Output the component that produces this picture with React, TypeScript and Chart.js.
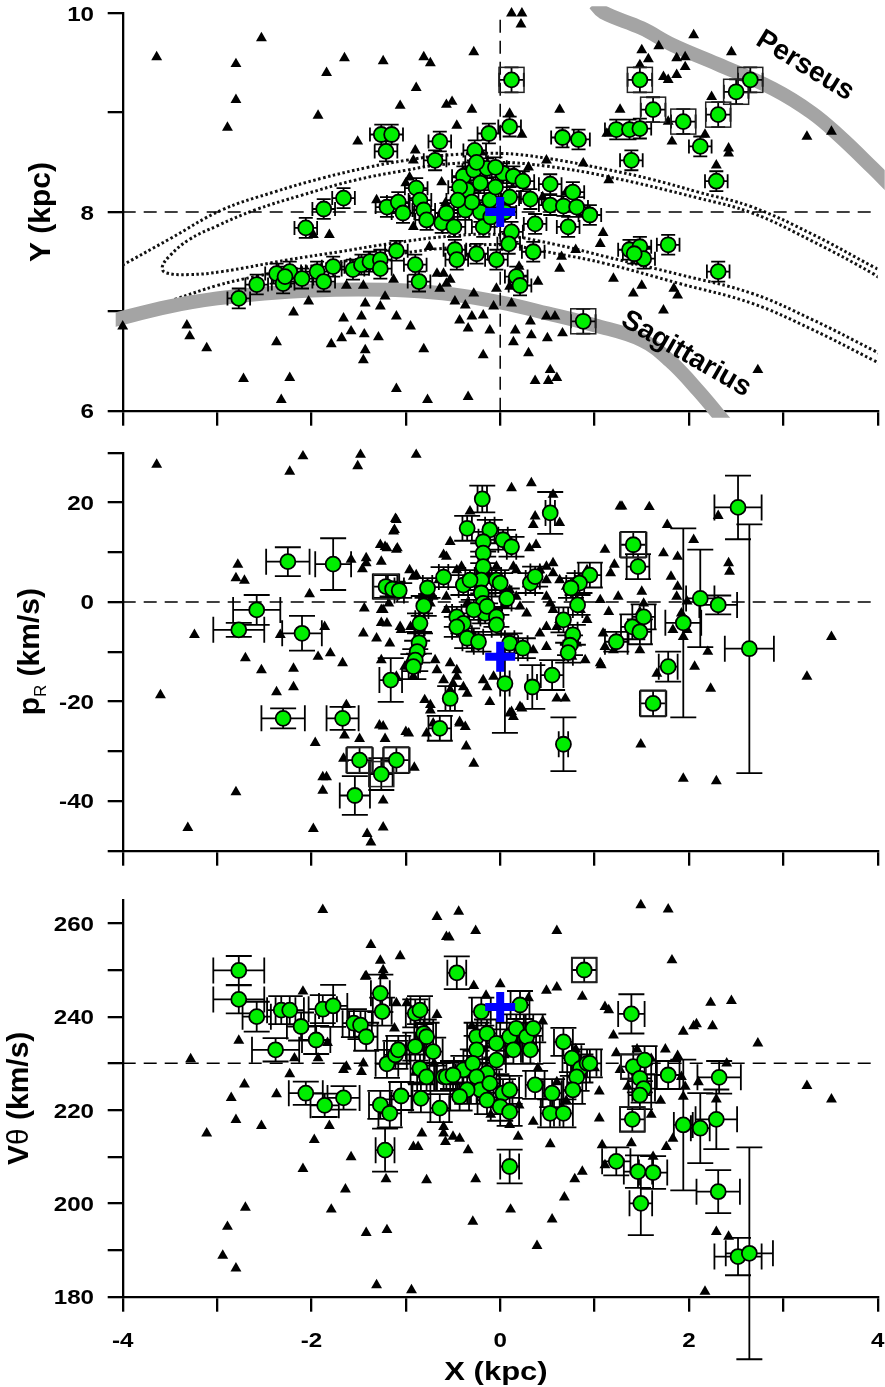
import React, { useEffect, useRef } from 'react';
import { Chart, registerables } from 'chart.js';

Chart.register(...registerables);

// ---------------- DATA ----------------
const xTickLabels = ['-4', '-2', '0', '2', '4'];
const topYTickLabels = ['6', '8', '10'];
const midYTickLabels = ['-40', '-20', '0', '20'];
const botYTickLabels = ['180', '200', '220', '240', '260'];

// reference lines
const topRefY = 8;
const topRefX = 0;
const midRefY = 0;
const botRefY = 230;

// Sun / reference cross
const topCross: [number, number] = [0, 8.0];
const midCross: [number, number] = [0, -11.0];
const botCross: [number, number] = [0, 242.1];

// spiral arms (top panel)
const perseusArm: [number, number][] = [
  [1.0, 10.1], [1.09, 10.01], [1.5, 9.85], [1.83, 9.68], [2.3, 9.49], [2.89, 9.24],
  [3.3, 9.0], [3.6, 8.76], [3.95, 8.44], [4.15, 8.25],
];
const sagittariusArm: [number, number][] = [
  [-4.15, 6.9], [-3.5, 7.05], [-3.0, 7.13], [-2.5, 7.18], [-2.0, 7.21], [-1.5, 7.22],
  [-1.0, 7.21], [-0.5, 7.17], [0, 7.09], [0.5, 6.98], [1.0, 6.86], [1.5, 6.71],
  [1.8, 6.5], [2.1, 6.2], [2.4, 5.86],
];
const armLabels: [string, number, number, number][] = [
  ['Perseus', 3.23, 9.47, 31.5],
  ['Sagittarius', 1.97, 6.57, 30],
];

// orbit curves (dotted)
const orbitOuterUpper: [number, number][] = [
  [-4.05, 7.44], [-3.5, 7.73], [-2.95, 8.02], [-2.4, 8.2], [-1.89, 8.34], [-1.4, 8.45],
  [-1.0, 8.52], [-0.6, 8.57], [0, 8.59], [0.5, 8.54], [1.12, 8.43], [1.6, 8.33],
  [2.1, 8.2], [2.67, 8.05], [3.3, 7.78], [3.95, 7.45], [4.05, 7.4],
];
const orbitInnerLoop: [number, number][] = [
  [4.05, 7.31], [3.95, 7.38], [3.3, 7.71], [2.67, 7.99], [2.1, 8.14], [1.12, 8.36],
  [0.5, 8.46], [0, 8.5], [-0.6, 8.48], [-1.0, 8.42], [-1.54, 8.32], [-2.1, 8.17],
  [-2.6, 8.02], [-3.0, 7.86], [-3.3, 7.72], [-3.5, 7.56], [-3.58, 7.45], [-3.55, 7.39],
  [-3.3, 7.37], [-2.95, 7.4], [-2.24, 7.52], [-1.7, 7.6], [-1.18, 7.68], [-0.5, 7.76],
  [0, 7.77], [0.6, 7.67], [1.12, 7.55], [1.9, 7.37], [2.67, 7.18], [3.3, 6.92],
  [3.95, 6.61], [4.05, 6.56],
];
const orbitOuterLower: [number, number][] = [
  [-3.45, 7.12], [-3.0, 7.26], [-2.6, 7.35], [-2.1, 7.44], [-1.54, 7.52], [-1.0, 7.59],
  [-0.66, 7.63], [0, 7.67], [0.6, 7.58], [1.12, 7.48], [1.9, 7.28], [2.67, 7.08],
  [3.3, 6.82], [3.95, 6.51], [4.05, 6.46],
];

// top panel: Y (kpc)
const topTriangles: [number, number][] = [
  [-3.64, 9.56], [-2.53, 9.75], [-2.8, 9.49], [-2.8, 9.13], [-2.89, 8.85], [-1.65, 9.55],
  [-1.84, 9.4], [-1.93, 8.97], [-1.24, 9.52], [-0.81, 9.56], [-0.74, 9.5], [-0.89, 9.25],
  [-1.06, 9.07], [-1.51, 8.71], [-0.9, 8.62], [-0.92, 8.52], [-0.96, 8.35], [-1.0, 8.29],
  [-1.31, 8.12], [-0.58, 8.09], [-0.92, 7.85], [-1.98, 7.77], [-1.81, 7.77], [-1.63, 7.26],
  [-1.45, 7.26], [-1.13, 7.32], [-0.57, 7.28], [-2.03, 7.1], [-2.19, 6.99], [-1.43, 7.08],
  [-1.22, 7.15], [-1.27, 7.05], [-1.66, 6.93], [-1.47, 6.95], [-1.1, 6.95], [-0.95, 6.85],
  [-1.58, 6.8], [-1.44, 6.77], [-1.29, 6.74], [-1.68, 6.73], [-1.79, 6.67], [-2.37, 6.69],
  [-1.43, 6.61], [-1.45, 6.51], [-0.81, 6.62], [-3.32, 6.86], [-3.29, 6.75], [-3.11, 6.63],
  [-2.72, 6.32], [-2.23, 6.33], [-2.32, 6.11], [-1.1, 6.22], [-0.77, 6.11], [-4.0, 6.85],
  [-0.67, 7.38], [-0.57, 9.08],
  [0.12, 10.0], [0.23, 10.0], [0.22, 9.89], [-0.28, 9.61], [-0.51, 9.11], [-0.3, 9.03],
  [-0.46, 8.87], [0.1, 8.99], [0.23, 8.78], [0.63, 9.03], [1.27, 9.03], [1.13, 8.79],
  [1.5, 9.63], [1.48, 9.48], [1.57, 9.54], [1.68, 9.67], [1.87, 9.55], [1.96, 9.56],
  [1.96, 9.46], [1.87, 9.38], [1.73, 9.36], [2.05, 9.78], [2.45, 9.61], [2.24, 9.16],
  [2.42, 8.64], [2.42, 8.59], [2.17, 8.78], [1.82, 8.71], [1.78, 8.91], [2.29, 8.47],
  [1.15, 8.32], [1.78, 9.33], [3.25, 8.76], [3.51, 8.81], [0.49, 8.52], [0.88, 8.49],
  [1.09, 7.79], [1.06, 7.68], [0.65, 7.55], [0.63, 7.43], [1.2, 7.33], [1.41, 7.18],
  [1.5, 7.26], [1.73, 7.01], [1.84, 7.23], [1.88, 7.16], [2.73, 6.41], [0.1, 7.25],
  [0.12, 7.08], [-0.04, 7.23], [-0.48, 7.1], [-0.37, 7.06], [-0.3, 6.95], [-0.43, 6.91],
  [-0.34, 6.83], [-0.18, 6.96], [-0.11, 6.81], [-0.07, 7.05], [-0.28, 7.18], [-0.64, 7.23],
  [-0.53, 7.32], [-0.6, 7.38], [0.16, 6.81], [0.32, 6.9], [0.33, 6.76], [0.49, 6.95],
  [0.58, 6.95], [0.5, 6.73], [0.66, 6.78], [0.14, 6.69], [-0.18, 6.56], [0.3, 6.58],
  [0.53, 6.41], [0.6, 6.33], [0.37, 6.3], [0.51, 6.3], [-0.34, 6.14],
  [-0.2, 8.6], [0.3, 8.45], [0.05, 7.65], [-0.45, 7.5], [0.4, 7.3], [0.8, 7.62],
  [0.7, 8.2], [-0.75, 7.65], [-0.15, 8.75], [0.45, 8.15], [-0.62, 8.3], [0.2, 7.45],
];
const topCircles: [number, number, number, number][] = [
  [-2.77, 7.13, 0.12, 0.1], [-2.58, 7.27, 0.12, 0.1], [-2.37, 7.38, 0.12, 0.1], [-2.3, 7.28, 0.12, 0.1],
  [-2.23, 7.4, 0.12, 0.1], [-2.1, 7.33, 0.12, 0.1], [-2.28, 7.35, 0.12, 0.1], [-1.94, 7.4, 0.12, 0.1],
  [-1.87, 7.3, 0.12, 0.1], [-1.77, 7.45, 0.12, 0.1], [-1.56, 7.42, 0.12, 0.1], [-1.47, 7.47, 0.12, 0.1],
  [-1.38, 7.5, 0.12, 0.1], [-1.27, 7.52, 0.12, 0.1], [-1.27, 7.43, 0.12, 0.1], [-1.1, 7.61, 0.12, 0.1],
  [-0.9, 7.47, 0.12, 0.1], [-0.86, 7.3, 0.12, 0.1],
  [-2.06, 7.84, 0.12, 0.1], [-1.87, 8.03, 0.12, 0.1], [-1.66, 8.14, 0.12, 0.1], [-1.26, 8.78, 0.12, 0.1],
  [-1.15, 8.78, 0.12, 0.1], [-1.21, 8.61, 0.12, 0.1], [-1.2, 8.05, 0.12, 0.1], [-1.08, 8.1, 0.12, 0.1],
  [-1.03, 7.99, 0.12, 0.1], [-0.89, 8.24, 0.12, 0.1], [-0.85, 8.12, 0.12, 0.1], [-0.81, 8.02, 0.12, 0.1],
  [-0.78, 7.92, 0.12, 0.1], [-0.64, 8.71, 0.12, 0.1], [-0.69, 8.52, 0.12, 0.1], [-0.62, 7.89, 0.12, 0.1],
  [-0.49, 7.85, 0.12, 0.1], [-0.57, 7.99, 0.12, 0.1],
  [-0.27, 8.62, 0.12, 0.1], [-0.12, 8.79, 0.12, 0.1], [0.1, 8.86, 0.12, 0.1],
  [-0.39, 8.36, 0.12, 0.1], [-0.28, 8.42, 0.12, 0.1], [-0.14, 8.44, 0.12, 0.1], [-0.35, 8.22, 0.12, 0.1],
  [-0.21, 8.29, 0.12, 0.1], [-0.11, 8.12, 0.12, 0.1], [0.03, 8.39, 0.12, 0.1], [0.14, 8.36, 0.12, 0.1],
  [0.24, 8.31, 0.12, 0.1], [-0.37, 8.02, 0.12, 0.1], [-0.21, 8.0, 0.12, 0.1], [-0.18, 7.85, 0.12, 0.1],
  [0.1, 8.15, 0.12, 0.1], [-0.43, 8.25, 0.12, 0.1], [-0.3, 8.1, 0.12, 0.1], [-0.05, 8.25, 0.12, 0.1],
  [-0.25, 8.5, 0.12, 0.1], [0.05, 8.0, 0.12, 0.1], [-0.1, 7.95, 0.12, 0.1], [-0.45, 8.12, 0.12, 0.1],
  [-0.05, 8.45, 0.12, 0.1],
  [0.32, 8.13, 0.12, 0.1], [0.53, 8.28, 0.12, 0.1], [0.37, 7.88, 0.12, 0.1], [0.12, 7.8, 0.12, 0.1],
  [0.09, 7.68, 0.12, 0.1], [0.53, 8.07, 0.12, 0.1], [0.67, 8.06, 0.12, 0.1], [0.77, 8.2, 0.12, 0.1],
  [0.81, 8.05, 0.12, 0.1], [0.95, 7.97, 0.12, 0.1], [0.72, 7.85, 0.12, 0.1], [0.66, 8.75, 0.12, 0.1],
  [0.83, 8.73, 0.12, 0.1],
  [-0.48, 7.62, 0.12, 0.1], [-0.46, 7.52, 0.12, 0.1], [-0.25, 7.58, 0.12, 0.1], [-0.04, 7.52, 0.12, 0.1],
  [0.17, 7.35, 0.12, 0.1], [0.21, 7.26, 0.12, 0.1], [0.35, 7.6, 0.12, 0.1],
  [1.23, 8.83, 0.12, 0.1], [1.37, 8.83, 0.12, 0.1], [1.48, 8.84, 0.12, 0.1], [1.39, 8.52, 0.12, 0.1],
  [2.12, 8.66, 0.12, 0.1], [2.29, 8.31, 0.12, 0.1], [1.37, 7.62, 0.12, 0.1], [1.48, 7.65, 0.12, 0.1],
  [1.52, 7.53, 0.12, 0.1], [1.42, 7.58, 0.12, 0.1], [1.78, 7.67, 0.12, 0.1], [2.31, 7.4, 0.12, 0.1],
  [0.12, 9.33, 0.13, 0.125], [1.48, 9.33, 0.13, 0.125], [1.62, 9.03, 0.13, 0.125], [1.94, 8.91, 0.13, 0.125],
  [2.31, 8.98, 0.13, 0.125], [2.5, 9.21, 0.13, 0.125], [2.65, 9.33, 0.13, 0.125], [0.88, 6.9, 0.13, 0.125],
];
const topBoxes: [number, number][] = [
  [0.12, 9.33], [1.48, 9.33], [1.62, 9.03], [1.94, 8.91], [2.31, 8.98], [2.5, 9.21], [2.65, 9.33], [0.88, 6.9],
];

// middle panel: p_R (km/s)
const midTriangles: [number, number][] = [
  [-3.64, 27.6], [-3.6, -18.7], [-3.24, -6.6], [-3.31, -45.4], [-2.8, -38.2], [-2.78, 7.5],
  [-2.8, 4.8], [-2.71, 4.3], [-2.7, -11.3], [-2.53, -13.7], [-2.23, 26.2], [-2.09, 29.3],
  [-2.02, 1.6], [-2.33, -6.6], [-1.86, -5.0], [-1.93, -11.0], [-1.8, -10.3], [-1.67, -12.3],
  [-2.19, -13.4], [-2.19, -17.1], [-2.37, -18.1], [-1.96, -28.3], [-1.98, -45.6], [-1.88, -35.2],
  [-1.84, -35.2], [-1.88, -37.9], [-1.66, -31.5], [-1.63, -20.7], [-1.65, -26.8], [-1.49, -27.5],
  [-1.48, 29.6], [-1.51, 27.3], [-1.42, 8.8], [-1.42, 7.8], [-1.58, 8.5], [-1.46, 6.6],
  [-1.44, -1.3], [-1.45, -6.3], [-1.31, -7.3], [-1.27, 11.5], [-1.2, 10.8], [-1.11, 16.7],
  [-1.12, 14.5], [-1.09, 10.8], [-1.26, 8.1], [-1.26, -1.6], [-1.26, -4.2], [-1.24, -25.0],
  [-1.28, -24.8], [-1.22, -27.5], [-1.26, -11.7], [-1.24, -39.9], [-1.24, -45.3], [-1.41, -46.6],
  [-1.37, -48.3], [-0.91, -33.3], [-1.0, -26.1], [-0.89, 29.6], [-0.74, -20.7], [-0.78, -26.4],
  [-1.05, -5.6], [-0.96, 6.4], [-0.89, 5.4], [-0.69, -11.7], [-0.57, 9.1],
  [-1.1, 16.5], [-1.13, 14.2], [-1.22, 11.1], [-1.1, 10.5], [-0.6, 9.5], [-0.53, 12.1],
  [-0.32, 18.2], [0.12, 22.9], [0.33, 23.9], [0.37, 17.2], [0.35, 15.5], [0.56, 21.6],
  [0.63, 15.9], [1.27, 19.2], [1.11, 10.5], [0.38, 11.5], [0.31, 10.8], [0.56, 7.8],
  [0.49, 7.1], [-0.92, 5.1], [0.14, 7.1], [0.17, 6.4], [-0.04, 7.1], [-0.14, 5.8],
  [-0.46, 6.4], [-0.41, 7.1], [-0.28, 3.8], [-0.65, 4.4], [-0.81, 1.8], [-0.71, 1.1],
  [-0.74, -0.3], [-1.24, -1.6], [-1.18, -0.3], [-0.57, 1.1], [-0.57, -1.6], [-0.35, -0.3],
  [-0.25, -1.6], [0.1, 2.4], [0.17, 1.1], [0.21, -0.9], [0.28, -2.3], [0.49, 1.1],
  [0.53, -0.3], [0.42, 6.4], [0.49, 4.4], [0.56, 5.8], [0.63, 4.4], [0.7, 3.1],
  [0.56, -1.6], [0.63, -3.6], [0.6, -5.0], [0.42, -6.3], [0.49, -5.0], [0.35, -9.7],
  [0.49, -9.0], [0.85, -1.6], [0.92, -3.6], [0.81, -8.3], [0.9, -11.7], [1.06, -12.3],
  [1.09, -6.3], [1.2, -9.7], [0.92, 6.4], [1.17, 5.8], [0.76, -11.0], [-1.2, -4.3],
  [-1.06, -5.0], [-0.95, -5.0], [-0.85, -4.3], [-1.17, -8.3], [-0.96, -11.7], [-1.01, -13.0],
  [-1.1, -15.0], [-0.92, -15.0], [-0.67, -13.7], [-0.6, -15.7], [-0.5, -16.4], [-0.46, -15.0],
  [-0.53, -17.7], [-0.8, -19.7], [-0.74, -21.8], [-0.71, -24.4], [-0.97, -26.4], [-0.39, -17.1],
  [-0.35, -18.4], [-0.43, -24.4], [-0.37, -25.1], [-0.07, -15.0], [-0.18, -15.7], [-0.14, -17.1],
  [-0.53, -12.3], [-0.46, -13.7], [0.1, -22.4], [0.14, -23.1], [0.21, -21.1],
  [1.29, 19.2], [1.58, 19.1], [1.77, 15.5], [2.05, 12.5], [1.21, 7.5], [1.73, 9.8],
  [1.88, 9.1], [2.42, 7.8], [2.43, 6.1], [2.31, 17.3], [1.81, 5.1], [1.88, 3.1],
  [1.87, 1.1], [1.98, 0.1], [1.92, -2.3], [1.06, 0.4], [1.25, 1.1], [1.15, -2.0],
  [1.5, 2.1], [1.52, -0.3], [1.48, -2.0], [1.83, -5.6], [1.94, -7.0], [1.98, -5.6],
  [1.48, -9.7], [1.66, -14.4], [1.11, -9.0], [1.07, -12.7], [2.2, -10.0], [2.06, -13.0],
  [2.23, -17.4], [1.49, -28.6], [1.94, -35.5], [2.29, -36.0], [3.25, -15.0], [3.51, -7.0],
  [-0.28, -32.5], [-0.36, -29.0], [-0.11, -20.1], [0.12, -22.1], [0.23, -21.4], [0.6, -19.4],
  [0.69, -19.4], [-0.43, -24.1],
];
const midCircles: [number, number, number, number][] = [
  [-2.25, 8.1, 0.23, 2.9], [-1.77, 7.6, 0.19, 5.2], [-2.58, -1.6, 0.25, 3.0], [-2.77, -5.6, 0.27, 1.4],
  [-2.1, -6.3, 0.21, 3.5], [-1.16, -15.7, 0.12, 4.4], [-2.3, -23.4, 0.23, 2.0], [-1.67, -23.4, 0.17, 2.3],
  [-1.54, -38.9, 0.16, 3.9], [-1.49, -31.8, 0.14, 2.6], [-1.1, -31.8, 0.14, 2.6], [-1.26, -34.6, 0.12, 3.2],
  [-1.21, 3.1, 0.14, 2.3], [-1.14, 2.6, 0.05, 1.5], [-1.07, 2.3, 0.05, 1.5], [-0.77, 2.8, 0.05, 2.0],
  [-0.81, -0.8, 0.05, 2.0], [-0.85, -4.3, 0.05, 2.0], [-0.86, -8.2, 0.05, 2.2], [-0.88, -10.0, 0.05, 2.2],
  [-0.9, -11.7, 0.05, 2.2], [-0.92, -13.0, 0.05, 2.5], [-0.6, 5.0, 0.05, 2.0], [-0.64, -25.4, 0.12, 2.5],
  [-0.53, -19.4, 0.05, 2.5], [-0.19, 20.7, 0.05, 2.7], [0.53, 17.9, 0.05, 4.2], [-0.35, 14.8, 0.05, 2.5],
  [-0.11, 14.5, 0.05, 2.0], [0.03, 12.5, 0.05, 2.0], [0.12, 11.1, 0.05, 2.0], [-0.18, 12.1, 0.05, 2.0],
  [-0.18, 9.8, 0.05, 2.0], [-0.18, 7.1, 0.05, 2.0], [-0.2, 4.4, 0.05, 2.0], [-0.2, 1.8, 0.05, 2.0],
  [-0.18, -0.3, 0.05, 2.0], [-0.16, -2.3, 0.05, 2.0], [-0.39, 3.4, 0.05, 2.0], [-0.32, 4.4, 0.05, 2.0],
  [-0.04, 4.4, 0.05, 2.0], [0.0, 3.8, 0.05, 2.0], [0.07, 0.7, 0.05, 2.0], [-0.46, -3.0, 0.05, 2.0],
  [-0.39, -4.3, 0.05, 2.0], [-0.46, -5.0, 0.05, 2.0], [-0.28, -1.6, 0.05, 2.0], [-0.14, -0.9, 0.05, 2.0],
  [-0.04, -3.0, 0.05, 2.0], [-0.04, -4.6, 0.05, 2.0], [-0.35, -7.3, 0.05, 2.0], [-0.23, -8.0, 0.05, 2.0],
  [0.1, -8.3, 0.05, 2.0], [0.24, -9.3, 0.05, 2.0], [0.05, -16.4, 0.05, 9.9], [0.34, -17.1, 0.05, 4.4],
  [0.55, -14.7, 0.12, 3.0], [0.32, 3.8, 0.05, 2.0], [0.37, 5.1, 0.05, 2.0], [0.95, 5.4, 0.12, 2.5],
  [0.84, 3.8, 0.05, 2.0], [0.75, 2.8, 0.05, 2.0], [0.82, -0.6, 0.05, 2.0], [0.67, -3.6, 0.05, 2.5],
  [0.77, -6.6, 0.05, 2.0], [0.74, -8.7, 0.05, 2.0], [0.72, -10.2, 0.05, 2.0], [1.23, -8.0, 0.12, 2.0],
  [0.67, -28.6, 0.05, 5.4], [1.41, 11.5, 0.14, 2.6], [1.46, 7.1, 0.12, 2.5], [1.4, -5.0, 0.12, 2.5],
  [1.52, -3.0, 0.12, 2.5], [1.48, -6.0, 0.12, 2.5], [1.62, -20.4, 0.14, 2.6], [1.78, -13.0, 0.1, 3.0],
  [1.94, -4.2, 0.19, 19], [2.12, 0.7, 0.15, 9.8], [2.31, -0.6, 0.2, 1.9], [2.52, 19.0, 0.25, 6.4],
  [2.64, -9.4, 0.26, 25],
];
const midBoxes: [number, number][] = [
  [-1.49, -31.8], [-1.1, -31.8], [-1.26, -34.6], [-1.21, 3.1], [1.41, 11.5], [1.62, -20.4],
];

// bottom panel: V_theta (km/s)
const botTriangles: [number, number][] = [
  [-3.28, 230.9], [-3.11, 215.0], [-2.85, 222.6], [-2.8, 217.9], [-2.71, 225.5], [-2.77, 234.9],
  [-2.53, 216.6], [-2.94, 188.8], [-2.89, 195.0], [-2.8, 186.1], [-2.7, 199.1], [-2.37, 223.4],
  [-2.23, 227.7], [-2.18, 231.1], [-2.09, 245.4], [-2.09, 207.4], [-1.97, 213.6], [-1.88, 262.9],
  [-1.93, 231.1], [-1.83, 234.4], [-1.81, 216.6], [-1.79, 198.7], [-1.64, 203.0], [-1.58, 209.9],
  [-1.66, 228.6], [-1.63, 229.3], [-1.47, 228.2], [-1.45, 230.0], [-1.42, 193.7], [-1.37, 255.4],
  [-1.42, 248.7], [-1.31, 182.5], [-1.2, 194.3], [-1.27, 252.0], [-1.24, 250.0], [-1.24, 248.7],
  [-1.06, 253.0], [-1.12, 237.5], [-1.21, 205.2], [-0.94, 181.4], [-0.78, 205.0], [-0.92, 212.1],
  [-0.87, 212.1], [-0.83, 215.0], [-0.67, 261.4], [-0.57, 257.1], [-0.6, 216.4], [-0.58, 213.2],
  [-0.67, 240.4], [-1.1, 242.9], [-0.99, 242.9], [-1.43, 248.6],
  [-0.44, 262.5], [-0.26, 258.4], [-0.54, 257.0], [0.6, 258.4], [-0.28, 246.6], [0.49, 245.6],
  [0.6, 246.3], [0.87, 244.3], [1.11, 242.1], [1.15, 241.4], [1.49, 263.9], [1.78, 263.0],
  [1.82, 252.1], [2.23, 243.0], [2.45, 243.4], [1.94, 236.8], [2.05, 238.0], [2.08, 238.4],
  [2.25, 238.0], [2.73, 234.3], [3.25, 225.2], [3.51, 222.3], [1.05, 218.2], [0.53, 212.7],
  [-0.26, 205.2], [0.11, 198.7], [-0.29, 196.1], [0.55, 196.6], [0.39, 190.9], [0.68, 201.3],
  [0.79, 205.2], [0.87, 206.8], [1.08, 212.5], [1.11, 208.2], [1.39, 212.9], [1.62, 210.0],
  [1.76, 212.1], [1.83, 213.9], [1.88, 231.6], [1.92, 227.1], [1.96, 225.0], [1.94, 222.9],
  [2.29, 222.3], [2.29, 193.9], [2.42, 192.9], [2.17, 181.1], [1.23, 232.2], [1.27, 228.6],
  [-0.5, 214.3], [-0.43, 213.9], [-0.34, 211.4], [-0.6, 215.0], [0.1, 216.8], [0.19, 214.3],
  [0.35, 217.5],
  [-0.3, 238], [0.1, 232], [0.4, 229], [-0.5, 226], [0.2, 221], [-0.1, 219], [0.6, 226],
  [0.8, 233], [-0.7, 230], [-0.9, 228], [0.45, 239], [0.3, 244], [-0.15, 244.5], [0.0, 247],
  [-0.8, 236], [1.0, 229], [1.05, 224], [0.7, 222], [1.2, 236], [1.45, 233], [1.6, 231],
  [1.7, 222], [1.6, 219], [1.35, 225], [2.1, 226], [2.4, 230], [1.75, 233],
];
const botCircles: [number, number, number, number][] = [
  [-2.77, 249.9, 0.27, 3.1], [-2.77, 243.7, 0.27, 3.0], [-2.58, 240.0, 0.15, 3.2], [-2.38, 232.9, 0.25, 2.5],
  [-2.32, 241.4, 0.15, 3.0], [-2.23, 241.4, 0.15, 3.0], [-2.11, 237.9, 0.15, 3.0], [-1.95, 235.0, 0.15, 3.0],
  [-2.06, 223.6, 0.18, 2.5], [-1.86, 221.0, 0.15, 2.5], [-1.66, 222.6, 0.17, 2.5], [-1.88, 241.6, 0.15, 3.0],
  [-1.77, 242.3, 0.15, 4.5], [-1.55, 238.6, 0.12, 3.0], [-1.48, 238.2, 0.12, 3.0], [-1.42, 235.7, 0.12, 3.0],
  [-1.27, 245.0, 0.1, 4.0], [-1.25, 241.1, 0.1, 3.0], [-1.2, 229.9, 0.12, 3.0], [-1.11, 231.8, 0.12, 3.0],
  [-1.08, 232.9, 0.12, 3.0], [-1.27, 221.1, 0.12, 3.0], [-1.17, 219.3, 0.12, 3.0], [-1.22, 211.4, 0.1, 4.6],
  [-1.05, 223.0, 0.12, 3.0], [-0.9, 240.7, 0.1, 3.0], [-0.85, 241.4, 0.1, 3.0], [-0.81, 236.4, 0.1, 3.0],
  [-0.78, 235.7, 0.1, 3.0], [-0.9, 233.6, 0.1, 3.0], [-0.71, 232.5, 0.1, 3.0], [-0.85, 228.9, 0.1, 3.0],
  [-0.78, 227.1, 0.1, 3.0], [-0.84, 222.5, 0.1, 3.0], [-0.64, 220.4, 0.1, 3.0], [-0.6, 227.1, 0.1, 3.0],
  [-0.46, 249.4, 0.1, 3.5], [-0.2, 241.1, 0.1, 3.0], [0.21, 242.5, 0.1, 3.0], [-0.57, 227.1, 0.1, 3.0],
  [-0.39, 228.6, 0.1, 3.0], [-0.14, 227.9, 0.1, 3.0], [-0.5, 227.5, 0.1, 3.0],
  [-0.25, 235.7, 0.1, 3.0], [-0.14, 236.4, 0.1, 3.0], [-0.25, 232.9, 0.1, 3.0], [-0.29, 230.0, 0.1, 3.0],
  [-0.25, 227.1, 0.1, 3.0], [-0.21, 224.3, 0.1, 3.0], [-0.14, 222.1, 0.1, 3.0], [-0.35, 224.3, 0.1, 3.0],
  [-0.43, 222.9, 0.1, 3.0], [-0.11, 225.7, 0.1, 3.0], [-0.04, 234.3, 0.1, 3.0], [0.1, 235.7, 0.1, 3.0],
  [0.17, 237.5, 0.1, 3.0], [0.28, 235.7, 0.1, 3.0], [0.35, 237.5, 0.1, 3.0], [0.14, 232.9, 0.1, 3.0],
  [0.32, 232.9, 0.1, 3.0], [-0.04, 230.7, 0.1, 3.0], [0.03, 223.6, 0.1, 3.0], [0.1, 224.3, 0.1, 3.0],
  [0.0, 220.7, 0.1, 3.0],
  [0.37, 225.4, 0.1, 3.0], [0.1, 219.6, 0.1, 3.0], [0.55, 223.6, 0.1, 3.0], [0.53, 219.3, 0.1, 3.0],
  [0.67, 219.3, 0.1, 3.0], [0.67, 234.6, 0.1, 3.0], [0.76, 231.1, 0.1, 3.0], [0.85, 228.9, 0.1, 3.0],
  [0.92, 230.0, 0.1, 3.0], [0.81, 227.1, 0.1, 3.0], [0.77, 224.3, 0.1, 3.0], [0.95, 230.0, 0.12, 3.0],
  [0.1, 207.9, 0.1, 3.6], [0.89, 250.0, 0.13, 2.6], [1.39, 240.6, 0.14, 4.2], [1.41, 229.3, 0.13, 2.6],
  [1.53, 230.7, 0.12, 3.0], [1.48, 226.8, 0.12, 3.0], [1.52, 224.6, 0.12, 3.0], [1.48, 223.2, 0.12, 3.0],
  [1.78, 227.5, 0.12, 3.0], [2.32, 227.0, 0.23, 3.5], [1.4, 218.0, 0.13, 2.6], [1.23, 209.0, 0.15, 3.0],
  [1.46, 206.8, 0.15, 3.5], [1.62, 206.6, 0.15, 3.5], [1.49, 200.0, 0.12, 6.8], [1.94, 216.8, 0.1, 14],
  [2.12, 216.1, 0.1, 7.5], [2.29, 218.0, 0.22, 6.4], [2.31, 202.5, 0.23, 4.6], [2.52, 188.6, 0.25, 4.0],
  [2.64, 189.3, 0.25, 22.7],
];
const botBoxes: [number, number][] = [[0.89, 250.0], [1.41, 229.3], [1.4, 218.0]];

// ---------------- RENDERING ----------------
const FONT = '"Liberation Sans", Arial, Helvetica, sans-serif';
const W = 885;
const PLOT_LEFT = 122.7;
const PLOT_RIGHT = 877.7;

type Seg = { t: string; size: number; weight?: string; dy?: number };

function drawSegs(ctx: CanvasRenderingContext2D, segs: Seg[], x: number, y: number,
  rot: number, scaleX: number, align: 'center' | 'right' | 'left', baseline: CanvasTextBaseline = 'alphabetic') {
  ctx.save();
  ctx.translate(x, y);
  ctx.rotate(rot);
  ctx.scale(scaleX, 1);
  ctx.fillStyle = '#000';
  ctx.textAlign = 'left';
  ctx.textBaseline = baseline;
  const fontOf = (s: Seg) => `${s.weight || 'bold'} ${s.size}px ${FONT}`;
  const widths = segs.map((s) => { ctx.font = fontOf(s); return ctx.measureText(s.t).width; });
  const total = widths.reduce((a, b) => a + b, 0);
  let cx = align === 'center' ? -total / 2 : align === 'right' ? -total : 0;
  segs.forEach((s, i) => {
    ctx.font = fontOf(s);
    ctx.fillText(s.t, cx, s.dy || 0);
    cx += widths[i];
  });
  ctx.restore();
}

interface Panel {
  top: number; height: number; plotTop: number; plotBottom: number;
  yMin: number; yMax: number; yStep: number; yLabels: string[];
  triangles: [number, number][]; circles: [number, number, number, number][]; boxes: [number, number][];
  cross: [number, number]; refY: number; refX?: number;
  arms?: [number, number][][]; orbits?: [number, number][][];
  yTitle: Seg[]; yTitleX: number; xLabels: boolean; cap: number;
  labels?: [string, number, number, number][];
}

const PANELS: Panel[] = [
  {
    top: 0, height: 440, plotTop: 13.3, plotBottom: 410.7, yMin: 6, yMax: 10, yStep: 1, yLabels: topYTickLabels,
    triangles: topTriangles, circles: topCircles, boxes: topBoxes, cross: topCross, refY: topRefY, refX: topRefX,
    arms: [perseusArm, sagittariusArm], orbits: [orbitOuterUpper, orbitInnerLoop, orbitOuterLower],
    yTitle: [{ t: 'Y (kpc)', size: 30 }], yTitleX: 49.5, xLabels: false, cap: 14, labels: armLabels,
  },
  {
    top: 440, height: 440, plotTop: 12.7, plotBottom: 410.7, yMin: -50, yMax: 30, yStep: 10, yLabels: midYTickLabels,
    triangles: midTriangles, circles: midCircles, boxes: midBoxes, cross: midCross, refY: midRefY,
    yTitle: [{ t: 'p', size: 30 }, { t: 'R', size: 17, weight: 'normal', dy: 7 }, { t: ' (km/s)', size: 30 }],
    yTitleX: 38.5, xLabels: false, cap: 26,
  },
  {
    top: 880, height: 507, plotTop: 20, plotBottom: 416.7, yMin: 180, yMax: 265, yStep: 10, yLabels: botYTickLabels,
    triangles: botTriangles, circles: botCircles, boxes: botBoxes, cross: botCross, refY: botRefY,
    yTitle: [{ t: 'V', size: 30 }, { t: '\u03b8', size: 30, weight: 'normal' }, { t: ' (km/s)', size: 30 }],
    yTitleX: 28, xLabels: true, cap: 26,
  },
];

const pts = (a: number[][]) => a.map((d) => ({ x: d[0], y: d[1] }));

function buildChart(canvas: HTMLCanvasElement, p: Panel) {
  const datasets: any[] = [];
  (p.orbits || []).forEach((o) => datasets.push({
    label: 'orbit', data: pts(o), showLine: true, borderColor: '#111', borderWidth: 3,
    borderDash: [2.5, 2.5], tension: 0.4, pointRadius: 0, order: 6,
  }));
  (p.arms || []).forEach((a) => datasets.push({
    label: 'arm', data: pts(a), showLine: true, borderColor: '#a4a4a4', borderWidth: 14,
    tension: 0.4, pointRadius: 0, order: 5, clip: 7,
  }));
  datasets.push({
    label: 'refY', data: [{ x: -4, y: p.refY }, { x: 4, y: p.refY }], showLine: true,
    borderColor: '#000', borderWidth: 1.5, borderDash: [13, 8], pointRadius: 0, order: 4,
  });
  if (p.refX !== undefined) {
    datasets.push({
      label: 'refX', data: [{ x: p.refX, y: p.yMin }, { x: p.refX, y: p.yMax }], showLine: true,
      borderColor: '#000', borderWidth: 1.5, borderDash: [13, 8], pointRadius: 0, order: 4,
    });
  }
  datasets.push({
    label: 'triangles', data: pts(p.triangles), showLine: false, pointStyle: 'triangle',
    pointRadius: 6.3, pointBackgroundColor: '#000', pointBorderColor: '#000', pointBorderWidth: 0,
    order: 3, clip: false,
  });
  datasets.push({
    label: 'circles', data: pts(p.circles), showLine: false, pointStyle: 'circle',
    pointRadius: 7.5, pointBackgroundColor: '#00ee00', pointBorderColor: '#000', pointBorderWidth: 1.8,
    order: 1, clip: false,
  });
  datasets.push({
    label: 'cross', data: pts([p.cross]), showLine: false, pointStyle: 'cross',
    pointRadius: 15, pointBorderColor: '#0000ff', pointBackgroundColor: '#0000ff', pointBorderWidth: 8,
    order: 0, clip: false,
  });

  const overlay = {
    id: 'overlay',
    beforeDatasetDraw(chart: any, args: any) {
      const ds = chart.data.datasets[args.index];
      if (ds.label !== 'circles') return;
      const ctx: CanvasRenderingContext2D = chart.ctx;
      const xs = chart.scales.x;
      const ys = chart.scales.y;
      const c = p.cap / 2;
      ctx.save();
      ctx.strokeStyle = '#000';
      ctx.lineWidth = 1.8;
      ctx.beginPath();
      for (const [x, y, ex, ey] of p.circles) {
        const px = xs.getPixelForValue(x);
        const py = ys.getPixelForValue(y);
        const x1 = xs.getPixelForValue(x - ex);
        const x2 = xs.getPixelForValue(x + ex);
        const y1 = ys.getPixelForValue(y + ey);
        const y2 = ys.getPixelForValue(y - ey);
        ctx.moveTo(x1, py); ctx.lineTo(x2, py);
        ctx.moveTo(x1, py - c); ctx.lineTo(x1, py + c);
        ctx.moveTo(x2, py - c); ctx.lineTo(x2, py + c);
        ctx.moveTo(px, y1); ctx.lineTo(px, y2);
        ctx.moveTo(px - c, y1); ctx.lineTo(px + c, y1);
        ctx.moveTo(px - c, y2); ctx.lineTo(px + c, y2);
      }
      ctx.stroke();
      ctx.strokeStyle = '#222';
      ctx.lineWidth = 1.5;
      for (const [x, y] of p.boxes) {
        const px = xs.getPixelForValue(x);
        const py = ys.getPixelForValue(y);
        ctx.strokeRect(px - 12.5, py - 12.5, 25, 25);
      }
      ctx.restore();
    },
    afterDraw(chart: any) {
      const ctx: CanvasRenderingContext2D = chart.ctx;
      const xs = chart.scales.x;
      const ys = chart.scales.y;
      for (const lab of p.yLabels) {
        const py = ys.getPixelForValue(Number(lab));
        drawSegs(ctx, [{ t: lab, size: 21 }], 94, py + 7.5, 0, 1.15, 'right');
      }
      const cy = (p.plotTop + p.plotBottom) / 2;
      drawSegs(ctx, p.yTitle, p.yTitleX, cy, -Math.PI / 2, 1, 'center');
      if (p.xLabels) {
        for (const lab of xTickLabels) {
          const px = xs.getPixelForValue(Number(lab));
          drawSegs(ctx, [{ t: lab, size: 21 }], px, p.plotBottom + 50, 0, 1.15, 'center');
        }
        drawSegs(ctx, [{ t: 'X (kpc)', size: 25 }], 496, p.plotBottom + 83.3, 0, 1.24, 'center');
      }
      for (const [text, x, y, deg] of p.labels || []) {
        drawSegs(ctx, [{ t: text, size: 28 }], xs.getPixelForValue(x), ys.getPixelForValue(y),
          (deg * Math.PI) / 180, 1, 'center', 'middle');
      }
    },
  };

  const axisCommon = {
    type: 'linear',
    grid: { display: true, drawOnChartArea: false, drawTicks: true, tickLength: 15, color: '#000', lineWidth: 2.3 },
    border: { display: true, color: '#000', width: 2.3 },
  };

  return new Chart(canvas, {
    type: 'scatter',
    data: { datasets },
    options: {
      responsive: false,
      maintainAspectRatio: false,
      animation: false,
      events: [],
      layout: { autoPadding: false, padding: { top: p.plotTop, right: W - PLOT_RIGHT, left: 0, bottom: 0 } },
      plugins: { legend: { display: false }, tooltip: { enabled: false } },
      scales: {
        x: {
          ...axisCommon,
          min: -4, max: 4,
          ticks: { display: false, stepSize: 1 },
          afterFit: (s: any) => { s.height = p.height - p.plotBottom; },
        },
        y: {
          ...axisCommon,
          min: p.yMin, max: p.yMax,
          ticks: { display: false, stepSize: p.yStep, includeBounds: false },
          afterFit: (s: any) => { s.width = PLOT_LEFT; },
        },
      },
    } as any,
    plugins: [overlay],
  } as any);
}

export default function App() {
  const refs = useRef<(HTMLCanvasElement | null)[]>([]);
  useEffect(() => {
    const charts = PANELS.map((p, i) => buildChart(refs.current[i] as HTMLCanvasElement, p));
    return () => charts.forEach((c) => c.destroy());
  }, []);
  return (
    <div style={{ position: 'absolute', left: 0, top: 0, width: W, height: 1387, background: '#fff', overflow: 'hidden' }}>
      {PANELS.map((p, i) => (
        <canvas
          key={i}
          ref={(el) => { refs.current[i] = el; }}
          width={W}
          height={p.height}
          style={{ position: 'absolute', left: 0, top: p.top, width: W, height: p.height }}
        />
      ))}
    </div>
  );
}
